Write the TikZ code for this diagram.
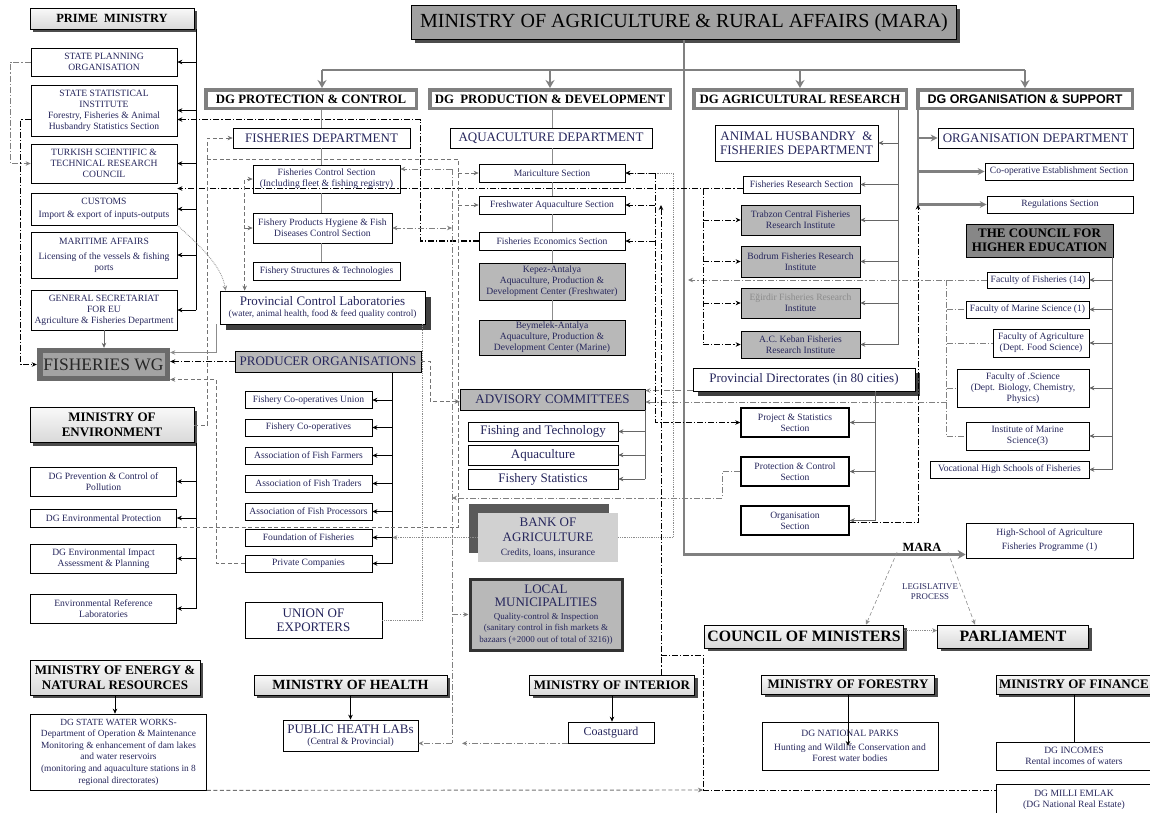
\documentclass[tikz,border=0pt]{standalone}
\usepackage{fontspec}
\setmainfont{Liberation Serif}
\newfontfamily\arialfont{Liberation Sans}
\usetikzlibrary{arrows.meta,shadows}
\definecolor{ink}{RGB}{38,38,92}
\definecolor{boxgray}{RGB}{184,184,184}
\definecolor{linegray}{RGB}{128,128,128}
\newcommand{\smallfont}{\fontsize{9.6}{11}\selectfont}
\newcommand{\midfont}{\fontsize{13}{14.5}\selectfont}
\newcommand{\minfont}{\bfseries\fontsize{13}{14.5}\selectfont}

\begin{document}
\begin{tikzpicture}[x=1pt,y=-1pt,
	sz/.style 2 args={minimum width=#1, minimum height=#2},
	box/.style={draw, line width=0.7pt, fill=white, align=center, inner sep=1pt, text=ink, font=\smallfont},
	gbox/.style={box, fill=boxgray},
	capbox/.style={box, font=\midfont},
	minbox/.style={draw, line width=0.7pt, top color=gray!5, bottom color=gray!30, align=center, inner sep=1pt, font=\minfont,
		drop shadow={shadow xshift=3pt, shadow yshift=-3pt, fill=black!70, opacity=1}},
	dgbox/.style={draw=linegray, line width=3.5pt, fill=white, inner sep=1pt, font=\bfseries\fontsize{12.8}{14}\selectfont},
	arr/.style={-{Stealth[length=5pt,width=4.5pt]}},
	barr/.style={{Stealth[length=5pt,width=4.5pt]}-{Stealth[length=5pt,width=4.5pt]}},
	bigarr/.style={-{Stealth[length=8pt,width=9pt]}},
	midarr/.style={-{Stealth[length=7pt,width=7pt]}},
	tree/.style={draw=black, line width=0.8pt},
	gtree/.style={draw=black!60, line width=0.8pt},
	bus/.style={draw=linegray, line width=2.5pt},
	gline/.style={draw=black!45, line width=0.8pt},
	dd/.style={draw=black, line width=0.8pt, dash pattern=on 6pt off 2pt on 1.2pt off 2pt},
	gdd/.style={dd, draw=black!50},
	ds/.style={draw=black!55, line width=0.9pt, dash pattern=on 4pt off 2.5pt},
	gdot/.style={draw=black!45, line width=0.8pt, densely dotted}]
	\useasboundingbox (0,0) rectangle (1150,812);

	\node[draw, line width=1pt, fill=black!37, sz={545}{34}, font=\fontsize{20}{22}\selectfont,
		drop shadow={shadow xshift=3pt, shadow yshift=-3pt, fill=black!70, opacity=1}] (mara) at (684,22.5) {MINISTRY OF AGRICULTURE \& RURAL AFFAIRS (MARA)};

	\node[minbox, sz={164}{21}, font=\bfseries\fontsize{12.5}{14}\selectfont] (pm) at (112,18.5) {PRIME\ \ MINISTRY};
	\node[box, sz={146}{28}] (spo) at (104,62) {STATE PLANNING\\ORGANISATION};
	\node[box, sz={146}{51}] (ssi) at (104,110.5) {STATE STATISTICAL\\INSTITUTE\\Forestry, Fisheries \& Animal\\Husbandry Statistics Section};
	\node[box, sz={146}{39}] (tsrc) at (104,163.5) {TURKISH SCIENTIFIC \&\\TECHNICAL RESEARCH\\COUNCIL};
	\node[box, sz={146}{32}] (cus) at (104,209) {CUSTOMS\\[2pt]Import \& export of inputs-outputs};
	\node[box, sz={146}{46}] (mar) at (104,255) {MARITIME AFFAIRS\\[4pt]Licensing of the vessels \& fishing\\ports};
	\node[box, sz={146}{40}] (gseu) at (104,310) {GENERAL SECRETARIAT\\FOR EU\\Agriculture \& Fisheries Department};
	\node[fill=black!58, sz={133}{33}] (fwg) at (103.5,364.5) {};
	\node[fill=black!36, sz={122}{23}, inner sep=0pt, text=black!85, font=\fontsize{17.5}{19}\selectfont] (fwgin) at (fwg) {FISHERIES WG};
	\node[minbox, sz={164}{35}] (env) at (112,425) {MINISTRY OF\\ENVIRONMENT};
	\node[box, sz={146}{29}] (dgpc) at (103.5,481.5) {DG Prevention \& Control of\\Pollution};
	\node[box, sz={146}{18}] (dgep) at (103.5,518) {DG Environmental Protection};
	\node[box, sz={146}{29}] (dgeia) at (103.5,558.5) {DG Environmental Impact\\Assessment \& Planning};
	\node[box, sz={146}{29}] (erl) at (103.5,608.5) {Environmental Reference\\Laboratories};
	\node[minbox, sz={170}{35}] (energy) at (115,677.5) {MINISTRY OF ENERGY \&\\NATURAL RESOURCES};
	\node[box, sz={176}{76}, font=\fontsize{9.4}{11.6}\selectfont] (sww) at (118.5,752) {DG STATE WATER WORKS-\\Department of Operation \& Maintenance\\Monitoring \& enhancement of dam lakes\\and water reservoirs\\(monitoring and aquaculture stations in 8\\regional directorates)};

	\node[dgbox, sz={210.5}{18.5}] (dgpcx) at (311,99) {DG PROTECTION \& CONTROL};
	\node[capbox, sz={177}{20}] (fd) at (321.5,138) {FISHERIES DEPARTMENT};
	\node[box, sz={147}{28}] (fcs) at (326.5,179) {Fisheries Control Section\\(Including fleet \& fishing registry)};
	\node[box, sz={139}{30}] (fph) at (322.5,228) {Fishery Products Hygiene \& Fish\\Diseases Control Section};
	\node[box, sz={147}{18}] (fst) at (326.5,271) {Fishery Structures \& Technologies};
	\node[box, sz={205}{33}, drop shadow={shadow xshift=6pt, shadow yshift=-6pt, fill=black!75, opacity=1}] (pcl) at (322.5,307.5) {\midfont Provincial Control Laboratories\\\fontsize{9.3}{10.5}\selectfont (water, animal health, food \& feed quality control)};
	\node[capbox, fill=boxgray, sz={186}{21}] (po) at (328,361.5) {PRODUCER ORGANISATIONS};
	\node[box, sz={127}{17}] (po1) at (308.5,400) {Fishery Co-operatives Union};
	\node[box, sz={127}{17}] (po2) at (308.5,427.5) {Fishery Co-operatives};
	\node[box, sz={127}{17}] (po3) at (308.5,455.5) {Association of Fish Farmers};
	\node[box, sz={127}{17}] (po4) at (308.5,483.5) {Association of Fish Traders};
	\node[box, sz={127}{17}] (po5) at (308.5,511.5) {Association of Fish Processors};
	\node[box, sz={127}{17}] (po6) at (308.5,537.5) {Foundation of Fisheries};
	\node[box, sz={127}{17}] (po7) at (308.5,563.5) {Private Companies};
	\node[capbox, sz={137}{36}] (uoe) at (313.5,620) {UNION OF\\EXPORTERS};
	\node[minbox, sz={193}{20}, font=\bfseries\fontsize{14}{15}\selectfont] (health) at (350.5,685) {MINISTRY OF HEALTH};
	\node[box, sz={135}{31}] (phl) at (350.5,735.5) {\midfont PUBLIC HEATH LABs\\\smallfont (Central \& Provincial)};

	\node[dgbox, sz={240.5}{18.5}] (dgpd) at (550,99) {DG\ \ PRODUCTION \& DEVELOPMENT};
	\node[capbox, sz={202}{20}] (aqd) at (551,138) {AQUACULTURE DEPARTMENT};
	\node[box, sz={146}{18}] (mari) at (552,173) {Mariculture Section};
	\node[box, sz={146}{18}] (fresh) at (552,205) {Freshwater Aquaculture Section};
	\node[box, sz={146}{18}] (fed) at (552,241) {Fisheries Economics Section};
	\node[gbox, sz={146}{37}] (kepez) at (552,281.5) {Kepez-Antalya\\Aquaculture, Production \&\\Development Center (Freshwater)};
	\node[gbox, sz={146}{35}] (beym) at (552,337.5) {Beymelek-Antalya\\Aquaculture, Production \&\\Development Center (Marine)};
	\node[capbox, fill=boxgray, sz={185}{21}] (adv) at (552.5,399.5) {ADVISORY COMMITTEES};
	\node[capbox, sz={150}{19}] (ft) at (543,431.5) {Fishing and Technology};
	\node[capbox, sz={150}{20}] (aq) at (543,455) {Aquaculture};
	\node[capbox, sz={150}{20}] (fstat) at (543,479) {Fishery Statistics};
	\node[fill=black!18, align=center, inner sep=1pt, text=ink, font=\midfont, sz={140}{49},
		drop shadow={shadow xshift=-9pt, shadow yshift=9pt, fill=black!65, opacity=1}] (bank) at (548,537.5) {BANK OF\\AGRICULTURE\\\smallfont Credits, loans, insurance};
	\node[box, draw=black!80, line width=3pt, fill=boxgray, sz={152}{71}, font=\fontsize{9}{11.5}\selectfont] (lm) at (546,614.5) {\midfont LOCAL\\[2pt]\midfont MUNICIPALITIES\\[1pt]Quality-control \& Inspection\\(sanitary control in fish markets \&\\bazaars (+2000 out of total of 3216))};
	\node[minbox, sz={165}{20}] (interior) at (612,685) {MINISTRY OF INTERIOR};
	\node[capbox, sz={86}{21}, font=\fontsize{12}{13}\selectfont] (coast) at (611,732.5) {Coastguard};

	\node[dgbox, sz={212.5}{18.5}] (dgar) at (800,99) {DG AGRICULTURAL RESEARCH};
	\node[capbox, sz={163}{36}] (ahfd) at (796.5,143) {ANIMAL HUSBANDRY\ \ \&\\FISHERIES DEPARTMENT};
	\node[box, sz={117}{17}] (frs) at (801.5,184.5) {Fisheries Research Section};
	\node[gbox, sz={119}{30}] (trab) at (800.5,220) {Trabzon Central Fisheries\\Research Institute};
	\node[gbox, sz={119}{31}] (bod) at (800.5,261.5) {Bodrum Fisheries Research\\Institute};
	\node[gbox, sz={119}{30}] (egir) at (800.5,303) {\textcolor{black!45}{Eğirdir Fisheries Research}\\Institute};
	\node[gbox, sz={119}{27}] (keban) at (800.5,344.5) {A.C. Keban Fisheries\\Research Institute};
	\node[capbox, sz={222}{23}, drop shadow={shadow xshift=5pt, shadow yshift=-5pt, fill=black!75, opacity=1}] (pd) at (804,379.5) {Provincial Directorates (in 80 cities)};
	\node[box, line width=1.4pt, sz={108}{29}] (pss) at (795,422.5) {Project \& Statistics\\Section};
	\node[box, line width=1.4pt, sz={108}{29}] (pcs) at (795,471.5) {Protection \& Control\\Section};
	\node[box, line width=1.4pt, sz={108}{29}] (orgs) at (795,520.5) {Organisation\\Section};

	\node[dgbox, sz={214.5}{18.5}, font=\arialfont\bfseries\fontsize{12.5}{14}\selectfont] (dgos) at (1025,99) {DG ORGANISATION \& SUPPORT};
	\node[capbox, sz={195}{20}] (od) at (1035.5,138) {ORGANISATION DEPARTMENT};
	\node[box, sz={148}{17}] (ces) at (1059,171.5) {Co-operative Establishment Section};
	\node[box, sz={146}{17}] (rs) at (1060,204.5) {Regulations Section};
	\node[draw, line width=0.8pt, fill=black!47, sz={147}{33}, align=center, inner sep=1pt, font=\minfont] (che) at (1039.5,240.5) {THE COUNCIL FOR\\HIGHER EDUCATION};
	\node[box, sz={102}{16}] (ff) at (1038,280) {Faculty of Fisheries (14)};
	\node[box, sz={123}{17}] (fms) at (1027.5,309.5) {Faculty of Marine Science (1)};
	\node[box, sz={96}{28}] (fa) at (1041,343) {Faculty of Agriculture\\(Dept. Food Science)};
	\node[box, sz={132}{38}] (fsci) at (1023,388) {Faculty of .Science\\(Dept. Biology, Chemistry,\\Physics)};
	\node[box, sz={123}{28}] (ims) at (1027.5,436) {Institute of Marine\\Science(3)};
	\node[box, sz={159}{17}] (vhs) at (1009.5,469.5) {Vocational High Schools of Fisheries};
	\node[box, sz={167}{35}] (hs) at (1049.5,540.5) {High-School of Agriculture\\[3pt]Fisheries Programme (1)};

	\node[font=\bfseries\fontsize{12.5}{14}\selectfont, inner sep=1pt] (maralbl) at (922,547) {MARA};
	\node[text=ink, font=\fontsize{8.8}{10.2}\selectfont, align=center, inner sep=1pt] (legis) at (930,592) {LEGISLATIVE\\PROCESS};
	\node[minbox, sz={199}{23}, font=\bfseries\fontsize{15.8}{17}\selectfont] (com) at (804,636.5) {COUNCIL OF MINISTERS};
	\node[minbox, sz={151}{23}, font=\bfseries\fontsize{15.8}{17}\selectfont] (parl) at (1013,636.5) {PARLIAMENT};
	\node[minbox, sz={173}{19}] (forestry) at (848,684.5) {MINISTRY OF FORESTRY};
	\node[box, sz={176}{48}] (dgnp) at (850,746) {DG NATIONAL PARKS\\[3pt]Hunting and Wildlife Conservation and\\Forest water bodies};
	\node[minbox, sz={156}{19}] (finance) at (1074,684.5) {MINISTRY OF FINANCE};
	\node[box, sz={156}{28}] (dginc) at (1074,756) {DG INCOMES\\Rental incomes of waters};
	\node[box, sz={156}{32}] (dgme) at (1074,800) {DG MILLI EMLAK\\(DG National Real Estate)};

	\coordinate (busy) at (0,70);
	\draw[bus] ([xshift=11pt]dgpcx.north |- busy) -- (dgos.north |- busy);
	\draw[bus,bigarr] ([xshift=11pt]dgpcx.north |- busy) -- ([xshift=11pt]dgpcx.north);
	\foreach \n in {dgpd,dgar,dgos} \draw[bus,bigarr] (\n.north |- busy) -- (\n.north);
	\draw[bus,bigarr] (mara.south) |- ([yshift=-14pt]hs.west);

	\coordinate (pmline) at ([xshift=2pt]pm.south east);
	\draw[tree] (pmline) -- (pmline |- gseu.east);
	\foreach \n in {spo,ssi,tsrc,cus,mar,gseu} \draw[tree,arr] (pmline |- \n.east) -- (\n.east);
	\draw[gtree,arr] (gseu.south) -- (gseu.south |- fwg.north);
	\coordinate (envline) at ([xshift=2pt]env.south east);
	\draw[tree] (envline) -- (envline |- erl.east);
	\foreach \n in {dgpc,dgep,dgeia,erl} \draw[tree,arr] (envline |- \n.east) -- (\n.east);
	\draw[tree,arr] (energy.south) -- (energy.south |- sww.north);

	\foreach \a/\b in {dgpcx/fd,fd/fcs,fcs/fph,fph/fst} \draw[gline] (fd.center |- \a.south) -- (fd.center |- \b.north);
	\foreach \a/\b in {dgpd/aqd,aqd/mari,mari/fresh,fresh/fed,fed/kepez,kepez/beym} \draw[gline] (mari.center |- \a.south) -- (mari.center |- \b.north);
	\coordinate (poline) at ([xshift=-29pt]po.south east);
	\draw[tree] (poline) -- (poline |- po7.east);
	\foreach \n in {po1,po2,po3,po4,po5,po6,po7} \draw[tree,arr] (poline |- \n.east) -- (\n.east);
	\draw[gtree] (adv.south east) -- (adv.south east |- fstat.east);
	\foreach \n in {ft,aq,fstat} \draw[gtree,arr] (adv.south east |- \n.east) -- (\n.east);
	\draw[tree,arr] (health.south) -- (health.south |- phl.north);
	\draw[tree,arr] (interior.south) -- (interior.south |- coast.north);

	\coordinate (rline) at ([xshift=-10pt]dgar.south east);
	\draw[gtree] (rline) -- (rline |- keban.east);
	\foreach \n in {ahfd,frs,trab,bod,egir,keban} \draw[gtree,arr] (rline |- \n.east) -- (\n.east);
	\coordinate (pline) at ([xshift=-40pt]pd.south east);
	\draw[gtree] (pline) -- (pline |- orgs.east);
	\foreach \n in {pss,pcs,orgs} \draw[gtree,arr] (pline |- \n.east) -- (\n.east);
	\coordinate (osline) at ([xshift=2pt]dgos.south west);
	\draw[bus] (osline) -- (osline |- rs.west);
	\foreach \n in {od,ces,rs} \draw[bus,midarr] (osline |- \n.west) -- (\n.west);
	\coordinate (cline) at ([xshift=-1pt]che.south east);
	\draw[gtree] (cline) -- (cline |- vhs.east);
	\foreach \n in {ff,fms,fa,fsci,ims,vhs} \draw[gtree,arr] (cline |- \n.east) -- (\n.east);

	\draw[ds,arr,draw=black!45,line width=0.6pt] ([xshift=-25pt]maralbl.south) -- ([xshift=62pt]com.north);
	\draw[ds,arr,draw=black!45,line width=0.6pt] ([xshift=26pt]maralbl.south) -- ([xshift=-38pt]parl.north);
	\coordinate (come) at ([yshift=6pt]com.east);
	\draw[gdot,arr] (come) -- (come -| parl.west);
	\draw[tree,arr] (forestry.south) -- (forestry.south |- dgnp.center);
	\draw[tree] (finance.south) -- (finance.south |- dginc.north);

	\draw[gdd,arr] (spo.west) -- ++(-20,0) |- (tsrc.west);
	\draw[dd,arr] ([yshift=-9pt]ssi.west) -- ++(-10,0) |- (fwg.west);
	\draw[dd,arr,line width=1.1pt] (fed.west) -- ++(-58,0) |- ([yshift=-9pt]ssi.east);
	\coordinate (frsw) at ([yshift=-4pt]frs.west);
	\draw[dd,arr] (frsw) -- (frsw -| tsrc.east);
	\draw[ds,arr] (env.east) -- ++(13,0) |- (fd.west);
	\coordinate (envbus) at (458,159);
	\coordinate (envx) at ([xshift=13pt]env.east);
	\draw[ds] (dgep.south east) -| (envbus) -- (envx |- envbus);
	\foreach \n in {mari,fresh} \draw[ds,arr] (envbus |- \n.west) -- (\n.west);
	\draw[ds,arr] (po7.west) -- ++(-28,0) |- ([yshift=-15pt]fwg.east);
	\draw[dd,arr] (po.west) -- (po.west -| fwg.east);
	\draw[gline,arr] ([xshift=-3pt]pcl.south west) |- ([yshift=12pt]fwg.east);
	\draw[gdot,arr] (cus.south east) .. controls (205,250) and (222,268) .. ([xshift=6pt]pcl.north west);
	\draw[ds,barr] ([xshift=25pt]pcl.north west) |- (fcs.west);
	\coordinate (labx) at ([xshift=25pt]pcl.north west);
	\draw[ds,arr] (labx |- fph.west) -- (fph.west);
	\draw[ds,arr] (po.east) -- ++(9,0) |- ([yshift=-2pt]adv.west);

	\coordinate (gtop) at (452,169);
	\coordinate (gbot) at (gtop |- coast.south west);
	\draw[gdd] (gtop) -- (gbot);
	\draw[gdd,arr] (gtop) -- (gtop -| fcs.east);
	\draw[gdd,barr] (fph.east) -- (gtop |- fph.east);
	\draw[gdd,arr] (gtop |- lm.west) -- (lm.west);
	\draw[gdd,arr] (coast.south west) -- ([xshift=10pt]gbot);
	\draw[gdd,arr] (gbot) -- (gbot -| phl.east);
	\draw[gdd,arr] (pcs.west) -- ++(-18,0) |- (gtop |- 0,498);
	\draw[gdot] (uoe.east) -| ([xshift=-3pt]pcl.south east);
	\draw[gdot,arr] (bank.west) -- (bank.west -| poline);
	\draw[gdot,arr] (bank.east) -| ([xshift=48pt]mari.east) -- (mari.east);

	\draw[dd,arr] ([yshift=-2pt]orgs.east) -| (osline |- rs.west);
	\coordinate (maraline) at ([xshift=4pt]mara.south);
	\draw[gdd,arr] (ff.west) -- (maraline |- ff.west);
	\coordinate (fac) at ([xshift=-40pt]ff.west);
	\draw[gdd] (fac) -- (fac |- ims.west);
	\foreach \n in {fms,fa,fsci,ims} \draw[gdd] (fac |- \n.west) -- (\n.west);
	\draw[gdd,arr] (fac |- 0,402) -- (adv.east |- 0,402);
	\coordinate (pdw) at ([yshift=-11pt]pd.west);
	\draw[gdd,arr] (pdw) -- (pdw -| adv.east);
	\coordinate (v655) at ([xshift=30pt]mari.east);
	\draw[dd,arr] (v655) |- (pss.west);
	\foreach \n in {mari,fresh,fed} \draw[dd,arr] (v655 |- \n.east) -- (\n.east);
	\coordinate (v703) at (703,188.5);
	\draw[dd] (v703) -- (v703 |- keban.west);
	\foreach \n in {trab,bod,egir,keban} \draw[dd,arr] (v703 |- \n.west) -- (\n.west);

	\coordinate (j1) at ([xshift=49pt]interior.north);
	\coordinate (j2) at (703,790);
	\draw[dd,arr] (j1) -- (j1 |- fresh.east);
	\draw[dd] (j1 |- 0,655) -| (j2);
	\draw[ds,arr] (sww.south east) -- (j2);
	\draw[dd] (j2) -- (j2 -| dgme.west);
\end{tikzpicture}
\end{document}
